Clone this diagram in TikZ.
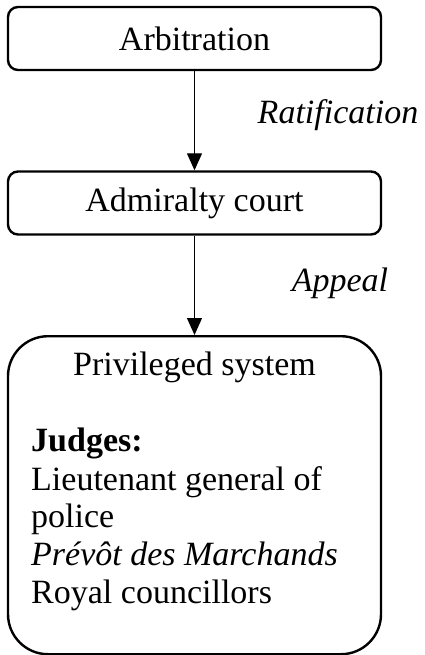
\documentclass[tikz,border=0pt]{standalone}
\usepackage{fontspec}
\setmainfont{Liberation Serif}
\usetikzlibrary{arrows.meta}
\begin{document}
\begin{tikzpicture}[x=1pt,y=-1pt,
  box/.style={draw, line width=2.4pt, rounded corners=10pt, minimum width=373pt, minimum height=63pt, inner sep=0pt, font=\fontsize{34}{38}\selectfont},
  conn/.style={line width=1.3pt, -{Triangle[width=15pt,length=17pt]}},
  lbl/.style={font=\fontsize{34}{38}\selectfont\itshape, inner sep=0pt},
  txt/.style={font=\fontsize{34}{38}\selectfont, inner sep=0pt}]
\useasboundingbox (0,0) rectangle (424,655);
\node[box] (arb) at (194.5,38.5) {Arbitration};
\node[box] (adm) at (194.5,203) {Admiralty court};
\node[box, rounded corners=40pt, minimum height=318pt, anchor=north] (priv) at (194.5,335) {};
\node[txt, anchor=base] (title) at (194.5,375) {Privileged system};
\node[txt, anchor=base west, align=left] (judges) at (31,451) {\textbf{Judges:}};
\node[txt, anchor=base west, align=left] (lieut) at (31,490) {Lieutenant general of};
\node[txt, anchor=base west, align=left] (police) at (31,527) {police};
\node[txt, anchor=base west, align=left] (prevot) at (31,565) {\textit{Prévôt des Marchands}};
\node[txt, anchor=base west, align=left] (royal) at (31,603) {Royal councillors};
\draw[conn] (arb) -- (adm);
\draw[conn] (adm) -- (priv);
\node[lbl] (ratif) at (338,115) {Ratification};
\node[lbl] (appeal) at (340,283) {Appeal};
\end{tikzpicture}
\end{document}
